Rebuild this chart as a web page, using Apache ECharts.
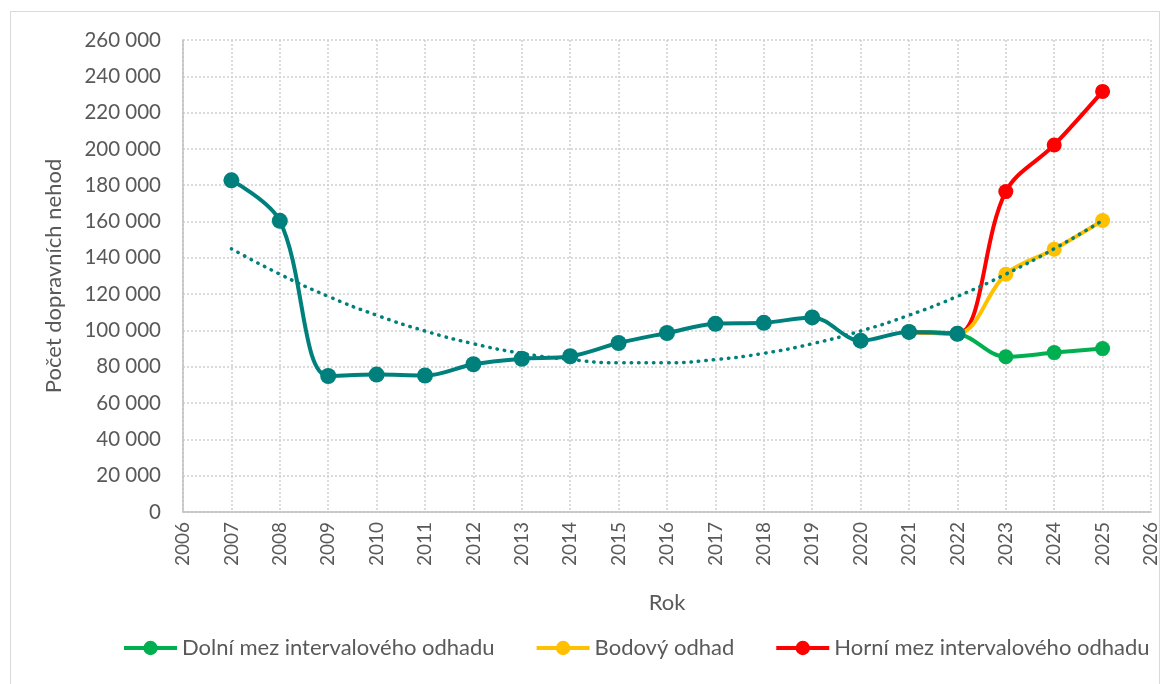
<!DOCTYPE html>
<html>
<head>
<meta charset="utf-8">
<script src="https://cdn.jsdelivr.net/npm/echarts@6/dist/echarts.min.js"></script>
<style>
  html, body { margin: 0; padding: 0; background: #fff; }
  #frame { position: absolute; left: 10px; top: 11px; width: 1150px; height: 690px; border: 1px solid #d9d9d9; box-sizing: border-box; }
  #chart { position: absolute; left: 0; top: 0; width: 1167px; height: 684px; }
</style>
</head>
<body>
<div id="frame"></div>
<div id="chart"></div>
<script>
// skutečné hodnoty
const years = [2007, 2008, 2009, 2010, 2011, 2012, 2013, 2014, 2015, 2016, 2017, 2018, 2019, 2020, 2021, 2022];
const nehody = [182700, 160400, 74900, 75700, 75200, 81400, 84400, 85800, 93100, 98600, 103700, 104200, 107200, 94400, 99200, 98200];

// odhady (navazují na roky 2021 a 2022)
const forecastYears = [2021, 2022, 2023, 2024, 2025];
const dolniMez = [99200, 98200, 85500, 87800, 90000];
const bodovy = [99200, 98200, 131000, 144800, 160600];
const horniMez = [99200, 98200, 176500, 202200, 231700];

// polynomický trend
const trendYears = [2007, 2008, 2009, 2010, 2011, 2012, 2013, 2014, 2015, 2016, 2017, 2018, 2019, 2020, 2021, 2022, 2023, 2024, 2025];
const trend = [145000, 131000, 118800, 108400, 99700, 92700, 87400, 84000, 82200, 82200, 84000, 87400, 92700, 99700, 108400, 118800, 131000, 145000, 160600];

const yTicks = { min: 0, max: 260000, interval: 20000 };
const xTicks = { min: 2006, max: 2026, interval: 1 };

const pairs = (xs, ys) => xs.map((x, i) => [x, ys[i]]);
const fmt = v => String(v).replace(/\B(?=(\d{3})+(?!\d))/g, ' ');

const textColor = '#595959';
const font = 'Lato';

let myChart = echarts.init(document.getElementById('chart'));
let option = {
  animation: false,
  textStyle: { fontFamily: font },
  grid: { left: 183, right: 16, top: 40, bottom: 172 },
  legend: {
    top: 632,
    left: 117,
    itemWidth: 53,
    itemHeight: 18,
    itemGap: 40,
    lineStyle: { width: 4 },
    data: ['Dolní mez intervalového odhadu', 'Bodový odhad', 'Horní mez intervalového odhadu'],
    textStyle: { color: textColor, fontSize: 22, fontFamily: font }
  },
  xAxis: {
    type: 'value',
    min: xTicks.min,
    max: xTicks.max,
    interval: xTicks.interval,
    name: 'Rok',
    nameLocation: 'middle',
    nameGap: 80,
    nameTextStyle: { color: textColor, fontSize: 22 },
    axisLine: { lineStyle: { color: '#bfbfbf', width: 1.5 } },
    axisTick: { show: false },
    axisLabel: { rotate: 90, color: textColor, fontSize: 19, margin: 10, formatter: v => String(v) },
    splitLine: { show: true, lineStyle: { color: '#d0d0d0', type: [2, 2], width: 1.5 } }
  },
  yAxis: {
    type: 'value',
    min: yTicks.min,
    max: yTicks.max,
    interval: yTicks.interval,
    name: 'Počet dopravních nehod',
    nameLocation: 'middle',
    nameGap: 118,
    nameTextStyle: { color: textColor, fontSize: 22 },
    axisLine: { show: true, lineStyle: { color: '#bfbfbf', width: 1.5 } },
    axisTick: { show: false },
    axisLabel: { color: textColor, fontSize: 20.5, margin: 22, formatter: fmt },
    splitLine: { show: true, lineStyle: { color: '#d0d0d0', type: [2, 2], width: 1.5 } }
  },
  series: [
    {
      name: 'Dolní mez intervalového odhadu',
      type: 'line',
      smooth: 0.35,
      data: pairs(forecastYears, dolniMez),
      symbol: 'circle',
      symbolSize: 15,
      itemStyle: { color: '#00b050' },
      lineStyle: { color: '#00b050', width: 4 },
      z: 2
    },
    {
      name: 'Bodový odhad',
      type: 'line',
      smooth: 0.35,
      data: pairs(forecastYears, bodovy),
      symbol: 'circle',
      symbolSize: 15,
      itemStyle: { color: '#ffc000' },
      lineStyle: { color: '#ffc000', width: 4 },
      z: 3
    },
    {
      name: 'Horní mez intervalového odhadu',
      type: 'line',
      smooth: 0.35,
      data: pairs(forecastYears, horniMez),
      symbol: 'circle',
      symbolSize: 15,
      itemStyle: { color: '#ff0000' },
      lineStyle: { color: '#ff0000', width: 4 },
      z: 2
    },
    {
      name: 'Trend',
      type: 'line',
      smooth: true,
      data: pairs(trendYears, trend),
      symbol: 'none',
      lineStyle: { color: '#00807c', width: 3.5, type: [0.5, 7], cap: 'round' },
      z: 4
    },
    {
      name: 'Počet nehod',
      type: 'line',
      smooth: 0.35,
      data: pairs(years, nehody),
      symbol: 'circle',
      symbolSize: 16,
      itemStyle: { color: '#00807c' },
      lineStyle: { color: '#00807c', width: 4 },
      z: 5
    }
  ]
};
myChart.setOption(option);
</script>
</body>
</html>
